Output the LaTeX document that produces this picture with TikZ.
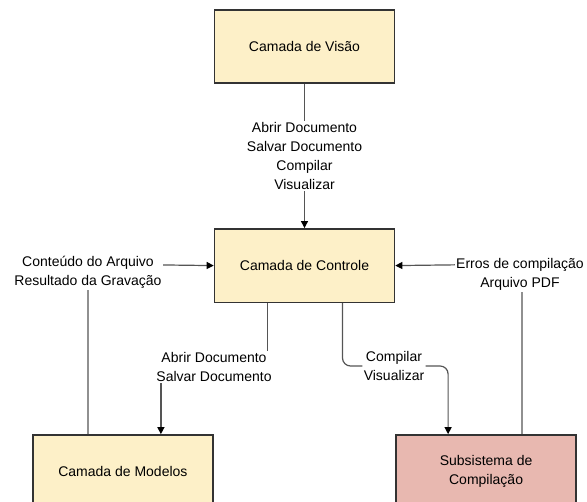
\documentclass[tikz,border=0pt]{standalone}
\usepackage{fontspec}
\setmainfont{Liberation Sans}
\usetikzlibrary{arrows.meta, positioning}
\usepackage{xcolor}
\definecolor{creme}{RGB}{253,240,200}
\definecolor{rosa}{RGB}{232,184,176}
\definecolor{fio}{RGB}{85,85,85}

\begin{document}
\begin{tikzpicture}[
x=1pt, y=-1pt,
font=\fontsize{14}{19}\selectfont,
box/.style={draw=black!80,
line width=1.6pt,
fill=creme,
rectangle,
minimum width=180pt,
minimum height=73.5pt,
align=center},
lbl/.style={fill=white, align=center, inner sep=1.5pt},
arrow/.style={-{Triangle[length=7pt, width=7pt, color=black]}, draw=fio, line width=1.2pt}
]
\clip (0,0) rectangle (587,502);

\node[box] (visao) at (304.5,46.5) {Camada de Visão};
\node[box, below=144pt of visao] (controle) {Camada de Controle};
\node[box, below left=131pt and 0pt of controle.south west] (modelos) {Camada de Modelos};
\node[box, fill=rosa, below right=131pt and 0pt of controle.south east] (subsis) {Subsistema de\\Compilação};

% pontos de dobra
\coordinate (cantoE) at (88,264);
\coordinate (cantoD) at (522,264);

\draw[arrow] (visao) -- node[lbl] (lblvisao) {Abrir Documento\\Salvar Documento\\Compilar\\Visualizar} (controle);
\draw[arrow] (modelos.north -| cantoE) -- (cantoE) -- (controle.west);
\node[lbl] (lblmodelos) at (88,272) {Conteúdo do Arquivo\\Resultado da Gravação};
\draw[arrow] (subsis.north -| cantoD) -- (cantoD) -- (controle.east);
\node[lbl] (lblsubsis) at (520,274) {Erros de compilação\\Arquivo PDF};
\draw[arrow] ([xshift=-37pt]controle.south) |- (214,367) node[lbl] (lblabrir) {Abrir Documento\\Salvar Documento} -| ([xshift=38pt]modelos.north);
\draw[arrow, rounded corners=8pt] ([xshift=38pt]controle.south) |- (394,366) node[lbl] (lblcompilar) {Compilar\\Visualizar} -| ([xshift=-38pt]subsis.north);

\end{tikzpicture}
\end{document}
